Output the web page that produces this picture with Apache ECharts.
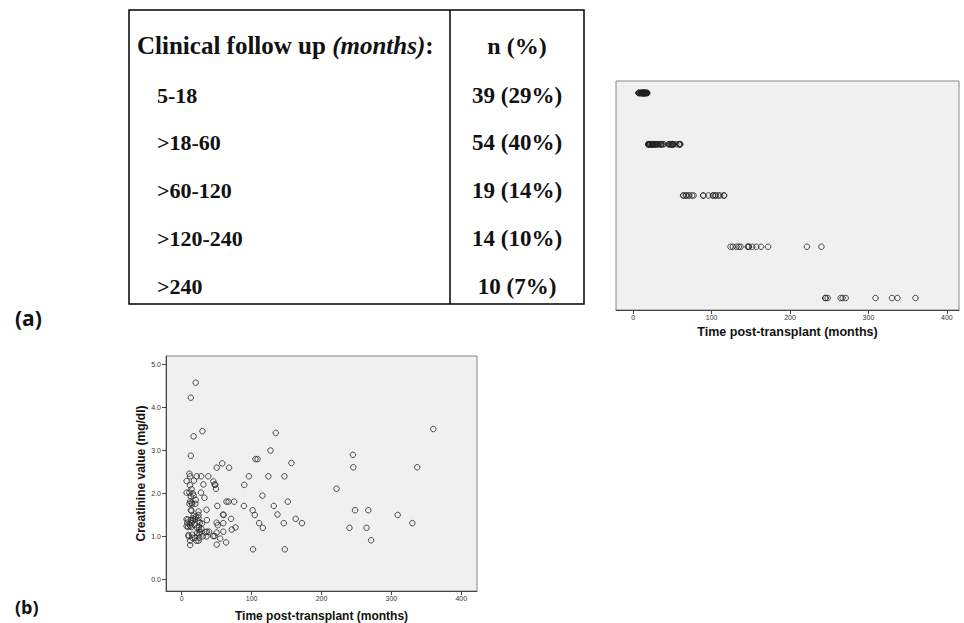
<!DOCTYPE html>
<html>
<head>
<meta charset="utf-8">
<script src="https://cdn.jsdelivr.net/npm/echarts@6/dist/echarts.min.js"></script>
<style>
html,body{margin:0;padding:0;background:#ffffff;}
#c{width:964px;height:623px;}
</style>
</head>
<body>
<div id="c"></div>
<script>
// ---- Table data ----
const followUpRanges = ['5-18', '>18-60', '>60-120', '>120-240', '>240'];
const followUpN = [39, 54, 19, 14, 10];
const followUpPct = [29, 40, 14, 10, 7];
const groupUpperBounds = [18, 60, 120, 240, 1000];

// ---- Axis ticks ----
const timeTicks = [0, 100, 200, 300, 400];
const creatTicks = [0, 1, 2, 3, 4, 5];

// ---- Patient data: time post-transplant (months) and creatinine (mg/dl) ----
const months = [
  // 5-18
  13, 17, 13, 11, 12, 7, 17.5, 12, 14, 7, 11, 16, 17, 13, 12, 14, 11, 15, 13, 14,
  17, 16, 9, 13, 16, 7, 8, 14, 12, 9, 14, 7, 18, 9.5, 15, 15, 12, 12, 10,
  // >18-60
  20, 29.6, 21.5, 27.7, 38, 31, 45.3, 47, 48, 49, 50, 58, 27.5, 32.5, 20, 19.5, 35.5, 51, 59, 60,
  24, 24, 24, 24, 20, 19, 26, 29, 36, 50, 51.5, 59.5, 24.5, 25, 26, 25, 25, 24, 21, 19,
  22, 59.5, 50, 39, 34, 36, 45, 47, 35.5, 55, 50, 28, 22, 30,
  // >60-120
  63.5, 64, 67, 67.8, 70.6, 71.5, 75, 77, 89, 89.5, 96, 101.5, 102, 104.5, 105.5, 108.5, 110.7, 116, 115.5,
  // >120-240
  124, 127, 131.7, 134.6, 137, 146, 147, 147.5, 151.8, 157, 163, 172, 221.5, 240,
  // >240
  244.9, 245.5, 248, 264.5, 267, 271, 309, 330, 337, 360
];
const creatinine = [
  // 5-18
  4.23, 3.33, 2.88, 2.46, 2.40, 2.29, 2.30, 2.19, 2.10, 2.02, 2.02, 2.00, 1.95, 1.93, 1.82, 1.78, 1.76, 1.75, 1.61, 1.60,
  1.48, 1.42, 1.39, 1.38, 1.37, 1.40, 1.32, 1.31, 1.25, 1.22, 1.22, 1.24, 1.27, 1.03, 1.04, 0.97, 0.90, 0.80, 1.00,
  // >18-60
  4.58, 3.45, 2.40, 2.40, 2.40, 2.21, 2.28, 2.21, 2.20, 2.11, 2.60, 2.70, 2.02, 1.90, 1.85, 1.76, 1.62, 1.71, 1.51, 1.50,
  1.58, 1.50, 1.43, 1.35, 1.46, 1.40, 1.32, 1.30, 1.38, 1.32, 1.26, 1.31, 1.22, 1.15, 1.10, 1.05, 0.97, 0.90, 0.90, 0.97,
  1.20, 1.11, 1.09, 1.11, 1.10, 1.11, 1.01, 1.01, 1.00, 0.95, 0.81, 1.18, 1.08, 1.00,
  // >60-120
  0.86, 1.81, 1.81, 2.60, 1.41, 1.16, 1.81, 1.21, 1.71, 2.20, 2.40, 1.61, 0.70, 1.50, 2.80, 2.80, 1.31, 1.20, 1.95,
  // >120-240
  2.40, 3.00, 1.71, 3.41, 1.51, 1.31, 2.40, 0.70, 1.81, 2.71, 1.41, 1.31, 2.11, 1.20,
  // >240
  2.90, 2.61, 1.61, 1.20, 1.61, 0.91, 1.50, 1.31, 2.61, 3.50
];

function groupIndex(m) {
  for (let i = 0; i < groupUpperBounds.length; i++) if (m <= groupUpperBounds[i]) return i;
  return groupUpperBounds.length - 1;
}

const stripData = months.map(m => [m, groupIndex(m) + 1]);
const scatterData = months.map((m, i) => [m, creatinine[i]]);

const chart = echarts.init(document.getElementById('c'), null, { renderer: 'svg' });

const axisFont = '"Liberation Sans", Arial, sans-serif';
const serif = '"Liberation Serif", "Times New Roman", serif';

// ---- Table graphics ----
const T = { left: 129, top: 10, right: 584, bottom: 304, divider: 450 };
const rowY = [95, 142.5, 190, 238, 286];
const graphics = [
  { type: 'rect', shape: { x: T.left, y: T.top, width: T.right - T.left, height: T.bottom - T.top },
    style: { fill: 'none', stroke: '#000', lineWidth: 1.5 } },
  { type: 'line', shape: { x1: T.divider, y1: T.top, x2: T.divider, y2: T.bottom },
    style: { stroke: '#000', lineWidth: 1.5 } },
  { type: 'text', x: 137, y: 45,
    style: {
      text: '{a|Clinical follow up }{b|(months)}{a|:}',
      rich: {
        a: { fontFamily: serif, fontWeight: 'bold', fontSize: 25, fill: '#111' },
        b: { fontFamily: serif, fontWeight: 'bold', fontStyle: 'italic', fontSize: 25, fill: '#111' }
      },
      textAlign: 'left', textVerticalAlign: 'middle'
    } },
  { type: 'text', x: (T.divider + T.right) / 2, y: 46,
    style: { text: 'n (%)', font: 'bold 24px ' + serif, fill: '#111', textAlign: 'center', textVerticalAlign: 'middle' } },
  { type: 'text', x: 15, y: 318,
    style: { text: '(a)', font: 'bold 21px "Open Sans", sans-serif', fill: '#111', textAlign: 'left', textVerticalAlign: 'middle' } },
  { type: 'text', x: 15, y: 598,
    style: { text: '(b)', font: 'bold 18px "Open Sans", sans-serif', fill: '#111', textAlign: 'left', textVerticalAlign: 'top' } }
];
followUpRanges.forEach((r, i) => {
  graphics.push({ type: 'text', x: 157, y: rowY[i],
    style: { text: r, font: 'bold 22px ' + serif, fill: '#111', textAlign: 'left', textVerticalAlign: 'middle' } });
  graphics.push({ type: 'text', x: (T.divider + T.right) / 2, y: rowY[i],
    style: { text: followUpN[i] + ' (' + followUpPct[i] + '%)', font: 'bold 23px ' + serif, fill: '#111',
      textAlign: 'center', textVerticalAlign: 'middle' } });
});

function xAxisCfg(grid, min, max, gap, fs) {
  return {
    type: 'value', gridIndex: grid, min: min, max: max,
    splitLine: { show: false },
    axisLine: { show: true, onZero: false, lineStyle: { color: '#444', width: 1 } },
    axisTick: { show: true, customValues: timeTicks, length: 4, lineStyle: { color: '#444' } },
    axisLabel: { customValues: timeTicks, fontSize: 7, color: '#333', margin: 4, fontFamily: axisFont },
    name: 'Time post-transplant (months)', nameLocation: 'middle', nameGap: gap,
    nameTextStyle: { fontSize: fs, fontWeight: 'bold', fontFamily: axisFont, color: '#111', verticalAlign: 'middle' }
  };
}

const symbolStyle = { color: 'rgba(0,0,0,0)', borderColor: '#222', borderWidth: 1 };

chart.setOption({
  animation: false,
  backgroundColor: '#ffffff',
  graphic: graphics,
  grid: [
    { left: 616, top: 81, width: 343, height: 229, show: true, backgroundColor: '#f0f0f0', borderColor: '#888', borderWidth: 1 },
    { left: 166, top: 356, width: 311, height: 236, show: true, backgroundColor: '#f0f0f0', borderColor: '#888', borderWidth: 1 }
  ],
  xAxis: [
    xAxisCfg(0, -22, 415.5, 22, 12.5),
    xAxisCfg(1, -22.5, 422.5, 25, 12)
  ],
  yAxis: [
    { type: 'value', gridIndex: 0, min: 0.766, max: 5.234, inverse: true, show: false },
    { type: 'value', gridIndex: 1, min: -0.27, max: 5.2,
      splitLine: { show: false },
      axisLine: { show: true, onZero: false, lineStyle: { color: '#444', width: 1 } },
      axisTick: { show: true, customValues: creatTicks, length: 4, lineStyle: { color: '#444' } },
      axisLabel: { customValues: creatTicks, fontSize: 7, color: '#333', margin: 5, fontFamily: axisFont,
        formatter: v => v.toFixed(1) },
      name: 'Creatinine value (mg/dl)', nameLocation: 'middle', nameGap: 20, nameRotate: 90,
      nameTextStyle: { fontSize: 12, fontWeight: 'bold', fontFamily: axisFont, color: '#111', verticalAlign: 'middle' }
    }
  ],
  series: [
    { type: 'scatter', xAxisIndex: 0, yAxisIndex: 0, data: stripData, symbol: 'circle', symbolSize: 5.5,
      itemStyle: symbolStyle, silent: true },
    { type: 'scatter', xAxisIndex: 1, yAxisIndex: 1, data: scatterData, symbol: 'circle', symbolSize: 5.5,
      itemStyle: symbolStyle, silent: true }
  ]
});
</script>
</body>
</html>
